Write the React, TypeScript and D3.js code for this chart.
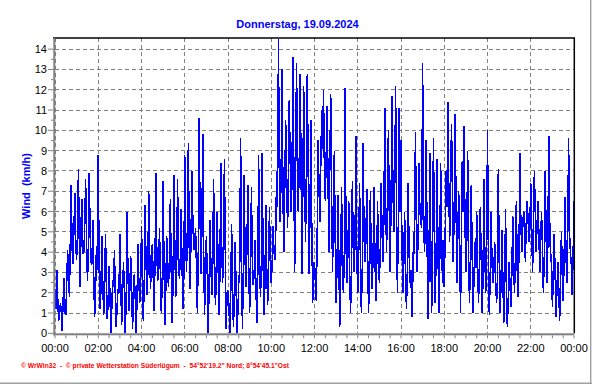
import React from 'react';
import * as d3 from 'd3';

// wind speed in km/h, one reading every 2.5 minutes (24 per row = 1 hour)
const wind00to06 = [
  2.2, 1.2, 3.1, 1.8, 0.6, 0.9, 1.5, 1.1, 0.1, 1.6, 2.7, 1.0, 0.9, 2.5, 4.1, 3.0, 1.8, 4.6, 7.3, 4.2, 3.4, 5.1, 6.9, 4.4,
  3.6, 5.0, 8.1, 4.4, 2.3, 5.6, 6.6, 3.9, 4.0, 5.3, 7.6, 4.7, 2.6, 3.8, 7.9, 4.9, 3.5, 3.4, 5.6, 2.8, 0.8, 2.0, 4.3, 3.1,
  8.8, 3.2, 1.2, 2.1, 4.8, 2.6, 0.9, 1.8, 4.9, 2.9, 0.7, 1.5, 3.3, 1.9, 0.0, 1.2, 2.6, 2.3, 4.1, 1.7, 0.3, 1.4, 2.2, 2.0,
  4.9, 2.4, 0.4, 1.9, 3.5, 2.2, 0.0, 1.6, 6.0, 3.0, 1.1, 2.1, 3.8, 2.5, 0.2, 1.3, 2.9, 1.8, 0.0, 1.5, 4.4, 2.7, 1.5, 2.2,
  5.3, 3.1, 0.6, 2.4, 6.3, 3.6, 1.9, 2.9, 7.0, 4.2, 2.2, 3.3, 4.4, 2.8, 1.1, 3.5, 7.9, 4.0, 2.6, 3.2, 5.2, 2.7, 1.0, 2.5,
  7.5, 3.4, 0.4, 2.2, 4.8, 2.9, 2.3, 3.7, 6.6, 3.1, 0.5, 2.4, 7.8, 4.3, 1.8, 3.0, 7.6, 4.1, 2.7, 3.6, 6.1, 3.3, 1.2, 2.8,
];
const wind06to12 = [
  8.8, 4.8, 3.0, 5.5, 9.4, 4.2, 2.2, 4.9, 8.0, 5.6, 4.1, 4.4, 5.2, 3.3, 1.0, 4.0, 10.6, 5.8, 2.9, 5.0, 9.8, 4.1, 0.9, 3.2,
  4.8, 2.9, 0.0, 2.2, 5.6, 3.4, 1.9, 3.0, 7.6, 4.1, 1.4, 2.6, 6.0, 3.5, 0.9, 2.8, 8.4, 4.4, 2.5, 3.6, 8.6, 3.9, 0.2, 2.0,
  2.1, 1.4, 0.0, 1.8, 5.4, 2.6, 0.3, 1.5, 4.5, 2.2, 0.0, 1.1, 2.6, 3.1, 9.6, 4.0, 0.2, 2.7, 7.8, 3.6, 2.3, 4.2, 7.3, 3.3,
  1.0, 2.8, 7.2, 3.5, 2.4, 2.9, 4.6, 2.3, 0.5, 2.6, 8.8, 3.8, 1.8, 3.0, 8.9, 3.4, 0.9, 2.5, 6.3, 3.2, 1.4, 2.7, 6.2, 3.6,
  2.5, 3.4, 5.3, 4.1, 3.6, 5.0, 8.0, 6.2, 14.5, 7.5, 5.5, 8.0, 13.0, 6.8, 4.0, 7.2, 10.5, 8.3, 5.2, 6.9, 11.5, 8.6, 6.0, 7.4,
  13.6, 8.6, 3.0, 7.1, 13.3, 9.4, 6.0, 8.2, 12.8, 9.0, 2.9, 6.8, 12.2, 8.4, 4.5, 7.5, 12.8, 8.1, 2.9, 6.0, 10.5, 5.2, 1.5, 3.5,
];
const wind12to18 = [
  3.5, 2.5, 1.6, 4.8, 9.5, 7.2, 5.5, 8.4, 11.0, 9.1, 12.0, 8.0, 6.5, 8.8, 11.2, 7.6, 4.0, 8.3, 11.8, 6.9, 3.0, 5.8, 9.0, 4.6,
  1.5, 3.2, 6.8, 3.9, 0.3, 2.6, 7.2, 4.0, 2.0, 3.5, 12.1, 4.4, 2.5, 3.8, 6.5, 3.1, 1.0, 2.9, 7.5, 4.2, 3.0, 4.6, 9.7, 3.7,
  2.0, 3.6, 7.4, 4.3, 1.0, 3.1, 9.4, 4.8, 3.5, 4.5, 7.1, 3.9, 1.0, 2.8, 7.0, 3.4, 2.2, 3.7, 7.2, 4.1, 1.6, 3.0, 6.5, 3.5,
  2.5, 4.2, 7.4, 5.0, 3.5, 5.6, 11.1, 6.3, 4.0, 6.8, 10.0, 5.9, 3.0, 6.5, 11.7, 7.4, 5.0, 7.0, 12.2, 6.2, 2.0, 5.4, 11.1, 6.0,
  9.5, 4.6, 2.0, 3.2, 6.0, 3.6, 1.2, 2.8, 7.4, 4.0, 2.5, 3.1, 0.8, 2.4, 5.0, 3.9, 9.9, 5.6, 3.0, 4.8, 8.4, 6.0, 5.5, 5.2,
  13.3, 6.4, 4.0, 5.1, 9.5, 4.3, 0.7, 2.9, 8.9, 4.7, 1.0, 3.3, 9.6, 5.0, 1.5, 3.8, 8.6, 4.4, 1.0, 3.5, 8.4, 5.3, 2.5, 4.6,
];
const wind18to24 = [
  2.3, 4.8, 8.0, 6.2, 11.4, 7.4, 4.5, 6.6, 10.3, 7.8, 3.5, 5.9, 10.8, 6.9, 2.5, 4.7, 7.0, 5.3, 1.0, 4.1, 8.5, 6.0, 10.2, 5.5,
  3.0, 4.6, 9.0, 4.0, 1.5, 3.4, 7.3, 3.9, 1.0, 2.7, 4.5, 3.2, 6.0, 3.6, 1.5, 2.9, 6.2, 3.8, 1.0, 2.6, 7.6, 4.1, 2.0, 3.3,
  10.0, 4.2, 0.9, 2.8, 6.0, 3.5, 2.5, 3.0, 4.5, 2.7, 1.5, 2.2, 8.1, 3.6, 1.0, 2.4, 5.1, 2.9, 0.5, 1.8, 6.1, 2.6, 0.3, 1.6,
  3.5, 2.4, 1.3, 2.9, 5.8, 3.3, 2.0, 3.8, 6.5, 3.1, 1.8, 4.2, 8.9, 5.6, 4.0, 5.1, 6.0, 5.9, 3.5, 5.4, 6.5, 5.7, 4.5, 5.2,
  7.4, 5.5, 3.0, 4.9, 8.0, 6.1, 4.0, 5.3, 6.5, 5.0, 3.0, 4.6, 6.0, 4.2, 2.0, 3.8, 8.0, 5.1, 2.5, 4.4, 9.7, 5.6, 3.5, 3.9,
  1.3, 2.6, 4.9, 3.1, 0.8, 2.0, 3.5, 2.4, 0.6, 1.9, 5.0, 3.3, 1.6, 3.5, 6.7, 4.2, 2.5, 4.6, 9.6, 5.0, 4.0, 3.4, 1.9, 3.8,
  6.5,
];

const title = 'Donnerstag, 19.09.2024';
const yLabel = 'Wind  (km/h)';
const footer = '\u00a9 WrWin32  -  \u00a9 private Wetterstation S\u00fcderl\u00fcgum  -  54\u00b052\'19.2" Nord; 8\u00b054\'45.1"Ost';

const dayStart = new Date(2024, 8, 19, 0, 0);
const dayEnd = new Date(2024, 8, 20, 0, 0);
const stepSeconds = 150;
const yMax = 14.55;

const font = '"Liberation Sans", Arial, sans-serif';

const App = () => {
  const left = 55, right = 574, top = 38, bottom = 333.3;

  const windData = [...wind00to06, ...wind06to12, ...wind12to18, ...wind18to24].map((v, i) => ({
    t: d3.timeSecond.offset(dayStart, i * stepSeconds),
    v,
  }));

  const x = d3.scaleTime().domain([dayStart, dayEnd]).range([left, right]);
  const y = d3.scaleLinear().domain([0, yMax]).range([bottom, top]);

  const line = d3.line<{ t: Date; v: number }>()
    .x(d => x(d.t))
    .y(d => y(d.v));

  const majorX = d3.timeHour.every(2)!.range(dayStart, d3.timeMinute.offset(dayEnd, 1));
  const minorX = d3.timeMinute.every(30)!.range(dayStart, d3.timeMinute.offset(dayEnd, 1));
  const yTicks = d3.range(0, 15);
  const yMinor = d3.range(0.5, 14.5, 1);
  const fmt = d3.timeFormat('%H:%M');

  return (
    <svg width={592} height={384} style={{ position: 'absolute', left: 0, top: 0, background: '#fff' }}>
      <defs>
        <clipPath id="plot">
          <rect x={left} y={top} width={right - left} height={bottom - top} />
        </clipPath>
      </defs>

      {/* window frame */}
      <rect x={590} y={0} width={1.4} height={384} fill="#a0a0a0" />
      <rect x={0} y={382.5} width={592} height={1.5} fill="#a0a0a0" />

      <text x={297.5} y={28} textAnchor="middle" fontFamily={font} fontSize={11} fontWeight="bold" fill="#0000ff">
        {title}
      </text>

      {/* grid */}
      <g shapeRendering="crispEdges">
        {yTicks.filter(v => v > 0).map(v => (
          <line key={'gy' + v} x1={left} x2={right} y1={y(v)} y2={y(v)} stroke="#808080" strokeDasharray="4,3" />
        ))}
        {majorX.map(t => (
          <line key={'gx' + t.getTime()} x1={x(t)} x2={x(t)} y1={top} y2={bottom} stroke="#808080" strokeDasharray="4,3" />
        ))}
      </g>

      <path
        d={line(windData) || ''}
        fill="none"
        stroke="#0000ff"
        strokeWidth={1.5}
        shapeRendering="crispEdges"
        clipPath="url(#plot)"
      />

      {/* frame of plot */}
      <line x1={left - 2} x2={right + 1} y1={top} y2={top} stroke="#000" strokeWidth={1.5} />
      <line x1={right + 0.3} x2={right + 0.3} y1={top} y2={bottom} stroke="#000" strokeWidth={1.5} />
      <rect x={left - 1.7} y={top} width={2} height={bottom - top + 2} fill="#808080" />
      <rect x={left - 1.7} y={bottom} width={right - left + 2} height={2} fill="#808080" />

      {/* y axis */}
      {yTicks.map(v => (
        <g key={'ty' + v}>
          <line x1={left - 7} x2={left - 1.7} y1={y(v)} y2={y(v)} stroke="#808080" />
          <text x={left - 8} y={y(v) + 4} textAnchor="end" fontFamily={font} fontSize={11} fill="#000">{v}</text>
        </g>
      ))}
      {yMinor.map(v => (
        <line key={'my' + v} x1={left - 4} x2={left - 1.7} y1={y(v)} y2={y(v)} stroke="#808080" />
      ))}
      <text
        transform={`translate(30,186) rotate(-90)`}
        textAnchor="middle"
        fontFamily={font}
        fontSize={11}
        fontWeight="bold"
        fill="#0000ff"
        style={{ whiteSpace: 'pre' }}
      >
        {yLabel}
      </text>

      {/* x axis */}
      {minorX.map(t => (
        <line key={'mx' + t.getTime()} x1={x(t)} x2={x(t)} y1={bottom + 2} y2={bottom + 5} stroke="#808080" />
      ))}
      {majorX.map(t => (
        <text key={'tx' + t.getTime()} x={x(t)} y={352} textAnchor="middle" fontFamily={font} fontSize={11} fill="#000">
          {fmt(t)}
        </text>
      ))}

      <text
        x={21}
        y={367.5}
        fontFamily={font}
        fontSize={7.5}
        fontWeight="bold"
        fill="#ff0000"
        textLength={268}
        lengthAdjust="spacingAndGlyphs"
        style={{ whiteSpace: 'pre' }}
      >
        {footer}
      </text>
    </svg>
  );
};

export default App;
